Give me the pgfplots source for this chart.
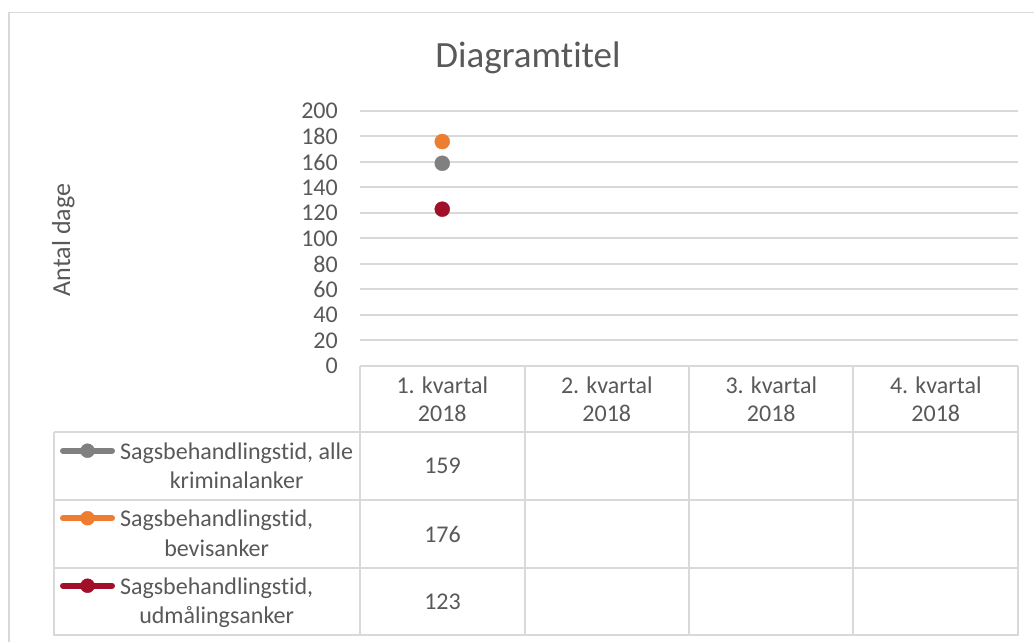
\documentclass[border=0pt]{standalone}
\usepackage{fontspec}
\setmainfont{Carlito}[Ligatures={NoCommon}]
\usepackage{pgfplots}
\pgfplotsset{compat=1.18}
\definecolor{txt}{HTML}{595959}
\definecolor{gridc}{HTML}{D9D9D9}
\definecolor{sgray}{HTML}{808080}
\definecolor{sorange}{HTML}{ED7D31}
\definecolor{sred}{HTML}{A11028}
\pgfplotsset{keyimg/.style={legend image code/.code={%
  \draw[line width=6pt, line cap=round] (3pt,16pt) -- (52pt,16pt);
  \fill (27.5pt,16pt) circle (7pt);}}}
\begin{document}
\begin{tikzpicture}[x=1pt,y=1pt]
\path[use as bounding box] (0,0) rectangle (1034,642);
\fill[white] (0,0) rectangle (1034,642);
\draw[gridc, line width=1.5pt] (9,0) -- (9,629.5) -- (1034,629.5);
\node[anchor=base, font=\fontsize{37}{44}\selectfont, text=txt] at (528,574) {Diagramtitel};
\node[anchor=base, rotate=90, font=\fontsize{26}{31}\selectfont, text=txt] at (70,402) {Antal dage};
\begin{axis}[
  at={(360pt,276pt)}, anchor=south west, scale only axis,
  width=658pt, height=255pt,
  xmin=0, xmax=4, ymin=0, ymax=200,
  ytick={0,20,...,200},
  xtick={0.5,1.5,2.5,3.5},
  xticklabels={{1. kvartal\\2018},{2. kvartal\\2018},{3. kvartal\\2018},{4. kvartal\\2018}},
  xticklabel style={align=center, anchor=center, yshift=-33pt, font=\fontsize{24}{28}\selectfont, text=txt},
  yticklabel style={inner sep=0pt, xshift=-22pt, font=\fontsize{24}{28}\selectfont, text=txt},
  /pgf/number format/assume math mode=true,
  ymajorgrids, grid style={gridc, line width=2pt},
  axis line style={draw=none},
  tick style={draw=none},
  major tick length=0pt,
  clip=false,
  legend cell align=left,
  legend style={at={(-0.4559,-0.2941)}, anchor=north west, draw=none, fill=none,
    inner sep=0pt, outer sep=0pt, row sep=16pt, column sep=3pt,
    font=\fontsize{24}{29.5}\selectfont\color{txt},
    cells={align=center, text height=46pt, text depth=6pt, inner sep=0pt}},
]
\addplot[only marks, color=sgray, mark=*, mark size=7.5pt, keyimg] coordinates {(0.5,159)};
\addlegendentry{Sagsbehandlingstid, alle\\kriminalanker}
\addplot[only marks, color=sorange, mark=*, mark size=7.5pt, keyimg] coordinates {(0.5,176)};
\addlegendentry{Sagsbehandlingstid,\\bevisanker}
\addplot[only marks, color=sred, mark=*, mark size=7.5pt, keyimg] coordinates {(0.5,123)};
\addlegendentry{Sagsbehandlingstid,\\udmålingsanker}
\end{axis}
\draw[gridc, line width=2pt] (54,210)--(1018,210) (54,142)--(1018,142) (54,74)--(1018,74) (53,7)--(1019,7);
\draw[gridc, line width=2pt] (54,210)--(54,7);
\foreach \x in {360,525,689,853,1018} \draw[gridc, line width=2pt] (\x,276)--(\x,7);
\node[font=\fontsize{24}{28}\selectfont, text=txt] at (442.5,176) {159};
\node[font=\fontsize{24}{28}\selectfont, text=txt] at (442.5,108) {176};
\node[font=\fontsize{24}{28}\selectfont, text=txt] at (442.5,40.5) {123};
\end{tikzpicture}
\end{document}
